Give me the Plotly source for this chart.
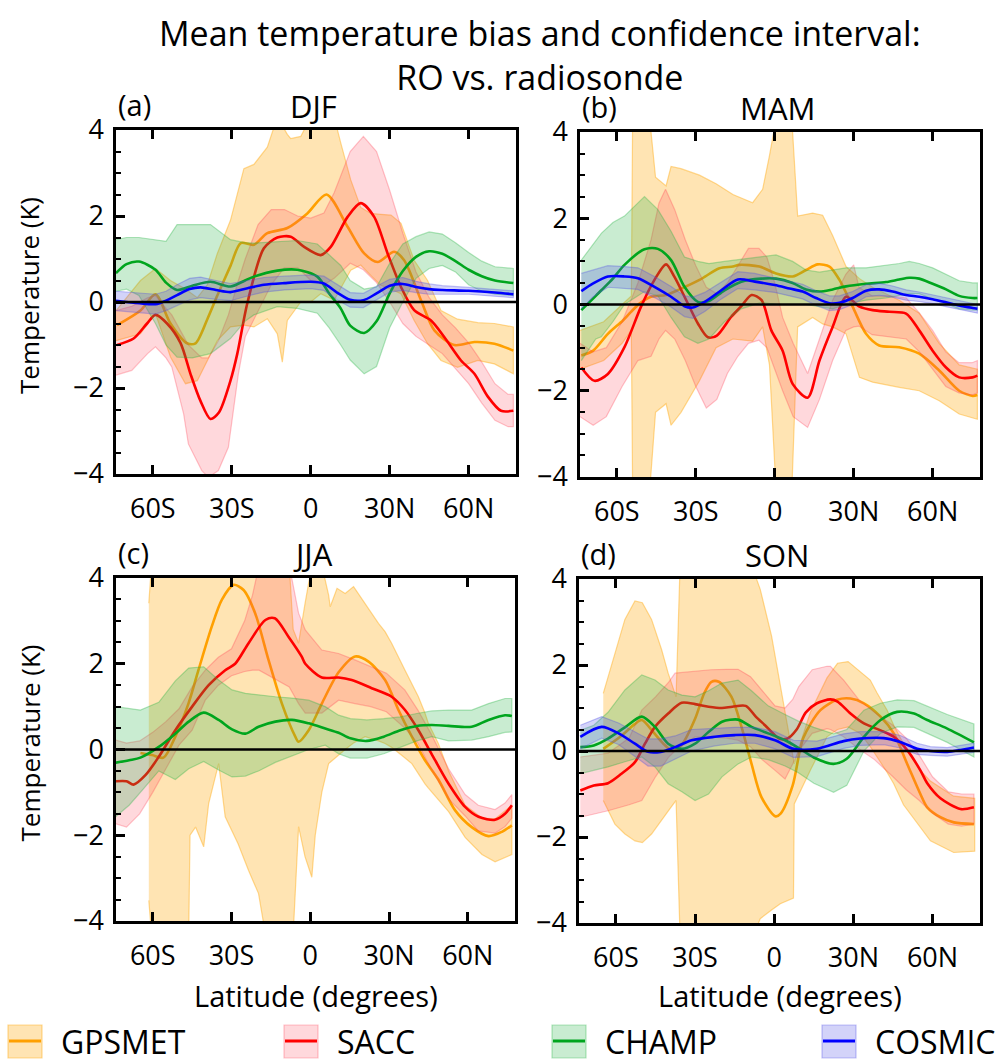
import plotly.graph_objects as go

# ---------------------------------------------------------------- data
TICK_LAT = [-60, -30, 0, 30, 60]
TICK_LAT_TEXT = ["60S", "30S", "0", "30N", "60N"]
TICK_T = [-4, -2, 0, 2, 4]
SERIES_NAMES = ["GPSMET", "SACC", "CHAMP", "COSMIC"]
SEASONS = ["DJF", "MAM", "JJA", "SON"]
PANEL_TAGS = ["(a)", "(b)", "(c)", "(d)"]
TITLE_LINES = ["Mean temperature bias and confidence interval:", "RO vs. radiosonde"]

# ---- (a) DJF
DJF_GPSMET_LAT = [-73.6, -64.7, -59, -53.3, -47, -43.8, -39.3, -35.5, -30.5, -26.6, -21.6, -16.5, -8.9, -1.3, 6,
                  14, 20.3, 25.4, 31.7, 35.5, 41.9, 47, 54.6, 62.2, 69.8, 77]
DJF_GPSMET_MEAN = [-0.54, -0.2, 0.18, -0.5, -0.96, -0.96, -0.4, 0.15, 0.84, 1.37, 1.33, 1.6, 1.72, 2.06, 2.5,
                   1.75, 1.13, 0.93, 1.17, 0.97, 0.04, -0.66, -1.0, -0.93, -0.97, -1.13]
DJF_GPSMET_BLAT = [-74, -64.7, -59, -53.3, -47.6, -43.1, -39.3, -35.5, -30.5, -25.4, -21.6, -16.5, -12.7, -10.8,
                   -8.9, -7.6, -3.8, 0, 3.8, 8.9, 11.4, 15.2, 19, 22.8, 26.6, 30.5, 34.3, 39.3, 44.4, 49.5,
                   55.8, 63.5, 69.8, 77]
DJF_GPSMET_HI = [-0.2, 0.5, 0.78, 0.5, 0.3, 0.1, 0.4, 1.13, 1.9, 3.1, 3.2, 3.6, 4.3, 4.1, 3.9, 3.8, 3.85, 4.3,
                 4.3, 4.3, 3.7, 2.84, 2.2, 2.06, 2.04, 2.02, 1.83, 0.97, 0.5, -0.2, -0.4, -0.48, -0.5, -0.58]
DJF_GPSMET_LO = [-0.9, -0.74, -0.27, -1.28, -1.9, -1.83, -1.36, -0.9, -0.58, -0.54, -0.58, -0.39, -0.74, -1.4,
                 -0.43, -0.3, 0.0, 0.0, 0.19, 0.04, 0.3, 0.74, 0.86, 0.62, 0.39, 0.3, 0.19, -0.43, -0.97, -1.36,
                 -1.52, -1.36, -1.44, -1.67]

DJF_SACC_LAT = [-73.6, -67.3, -62.2, -59, -54.6, -49.5, -45.7, -41.9, -38.1, -34.9, -30.5, -27.9, -24.1, -17.8,
                -12.7, -7.6, -2.5, 3.8, 7.6, 14, 19, 24.1, 29.2, 34.3, 39.3, 45.7, 50.8, 57.1, 62.2, 67.3,
                72.3, 77]
DJF_SACC_MEAN = [-1.0, -0.85, -0.5, -0.3, -0.5, -0.95, -1.67, -2.3, -2.72, -2.57, -1.83, -1.2, -0.03, 1.25, 1.5,
                 1.52, 1.28, 1.09, 1.28, 1.98, 2.3, 1.98, 1.13, 0.35, -0.19, -0.43, -0.82, -1.36, -1.67, -2.2,
                 -2.53, -2.53]
DJF_SACC_BLAT = [-74, -68, -62, -59, -55, -52.8, -48.3, -46.5, -41.4, -38.9, -35.1, -31.3, -27.5, -24.9, -20,
                 -15, -10, -5, 0, 5, 8.9, 15, 20, 25, 30, 35, 40, 45, 50, 55, 60, 65, 70, 75, 77]
DJF_SACC_HI = [-0.2, -0.1, 0.1, 0.15, -0.15, -0.3, -0.8, -1.0, -1.3, -1.3, -0.9, -0.3, 0.5, 1.0, 1.8, 2.15,
               2.15, 2.0, 1.95, 2.07, 2.54, 3.5, 3.85, 3.5, 2.6, 1.6, 0.7, 0.1, -0.3, -0.6, -0.95, -1.4, -1.9,
               -2.15, -2.15]
DJF_SACC_LO = [-1.7, -1.59, -1.2, -1.04, -1.3, -1.51, -2.6, -3.3, -3.92, -4.08, -3.92, -3.38, -1.67, -0.81,
               -0.2, 0.4, 0.8, 0.8, 0.5, 0.4, 0.55, 0.9, 0.75, 0.45, 0.0, -0.5, -0.8, -1.0, -1.2, -1.55, -1.9,
               -2.35, -2.75, -2.9, -2.9]

DJF_CHAMP_LAT = [-74, -70, -65.3, -59, -55, -50.8, -45, -38.1, -30.5, -25, -21.6, -12.7, -5.1, 2.5, 7, 11.4, 15,
                 20.3, 25, 30, 35, 40, 45, 50, 55, 60, 65, 70, 77]
DJF_CHAMP_MEAN = [0.67, 0.88, 0.94, 0.75, 0.45, 0.28, 0.38, 0.47, 0.36, 0.5, 0.59, 0.73, 0.75, 0.59, 0.2, -0.15,
                  -0.55, -0.72, -0.45, 0.2, 0.72, 1.05, 1.18, 1.12, 0.95, 0.75, 0.6, 0.5, 0.44]
DJF_CHAMP_HI = [1.45, 1.5, 1.5, 1.45, 1.41, 1.8, 1.8, 1.8, 1.45, 1.38, 1.37, 1.41, 1.43, 1.35, 1.1, 0.85, 0.5,
                0.3, 0.35, 0.9, 1.35, 1.52, 1.63, 1.58, 1.38, 1.15, 0.95, 0.82, 0.78]
DJF_CHAMP_LO = [0.25, 0.3, 0.15, -0.5, -1.0, -1.28, -1.3, -1.2, -0.85, -0.45, -0.3, -0.11, -0.15, -0.26, -0.6,
                -1.0, -1.35, -1.67, -1.5, -0.6, 0.0, 0.55, 0.78, 0.85, 0.7, 0.4, 0.25, 0.18, 0.15]

DJF_COSMIC_LAT = [-74, -65, -59, -55, -50.8, -46, -41.9, -36, -30.5, -24, -17.8, -10, 0, 5, 10, 15, 20, 25, 30,
                  35, 40, 45, 50, 60, 70, 77]
DJF_COSMIC_MEAN = [0.03, -0.03, -0.05, 0.03, 0.16, 0.3, 0.34, 0.28, 0.23, 0.32, 0.4, 0.44, 0.47, 0.43, 0.22,
                   0.05, 0.04, 0.2, 0.38, 0.42, 0.35, 0.3, 0.28, 0.26, 0.22, 0.18]
DJF_COSMIC_HI = [0.25, 0.2, 0.18, 0.25, 0.4, 0.55, 0.58, 0.5, 0.43, 0.5, 0.57, 0.6, 0.63, 0.6, 0.4, 0.22, 0.2,
                 0.36, 0.53, 0.57, 0.48, 0.42, 0.38, 0.34, 0.3, 0.26]
DJF_COSMIC_LO = [-0.2, -0.25, -0.28, -0.2, -0.08, 0.05, 0.1, 0.06, 0.03, 0.14, 0.23, 0.28, 0.31, 0.27, 0.05,
                 -0.12, -0.13, 0.04, 0.23, 0.27, 0.22, 0.18, 0.18, 0.18, 0.14, 0.1]

# ---- (b) MAM
MAM_GPSMET_LAT = [-73.5, -69, -63.4, -57.7, -54.6, -51.4, -47, -41.3, -36.2, -28.6, -21, -15.9, -13.4, -5.8, 0.5,
                  6.8, 11.9, 16.3, 20.8, 24.6, 29.6, 34.7, 39.7, 47.3, 54.9, 62.5, 70.1, 75.2, 77]
MAM_GPSMET_MEAN = [-1.18, -1.07, -0.68, -0.37, -0.17, 0.02, 0.18, 0.22, 0.35, 0.57, 0.84, 0.88, 0.92, 0.88, 0.72,
                   0.65, 0.8, 0.93, 0.88, 0.57, -0.05, -0.68, -0.95, -0.99, -1.14, -1.53, -2.0, -2.12, -2.1]
MAM_GPSMET_BLAT = [-74, -65, -58, -54.5, -54, -47.5, -45.3, -41.3, -39.4, -35.6, -28.6, -22.3, -15.9, -8.4, -4.6,
                   -2, 0.5, 6.5, 8.7, 14.4, 18.2, 22, 27.1, 32.2, 37.2, 47.3, 54.9, 62.5, 70.1, 77]
MAM_GPSMET_HI = [-0.6, -0.4, 0.0, 0.2, 4.3, 4.3, 2.95, 2.75, 3.2, 3.15, 3.0, 2.8, 2.55, 2.36, 2.67, 3.45, 4.3,
                 4.3, 2.05, 2.12, 2.07, 1.6, 0.88, 0.6, 0.4, 0.1, -0.2, -0.9, -1.4, -1.5]
MAM_GPSMET_LO = [-1.5, -1.3, -0.9, -0.6, -4.3, -4.3, -2.5, -2.3, -2.8, -2.5, -1.77, -1.0, -0.8, -0.85, -0.52,
                 -1.4, -4.3, -4.3, -0.52, -0.3, -0.45, -0.52, -0.68, -1.69, -1.8, -1.92, -2.0, -2.23, -2.54, -2.66]

MAM_SACC_LAT = [-73.5, -68.5, -63.4, -57.1, -50.8, -45.7, -41.3, -38.1, -33, -29.2, -25.4, -22, -16.6, -12.7,
                -8.8, -5, -1.3, 3, 6.8, 12.5, 17, 22, 27.1, 32.2, 37.2, 43.5, 49.9, 54.9, 60, 65.1, 70.1, 75.2, 77]
MAM_SACC_MEAN = [-1.46, -1.77, -1.61, -0.99, -0.05, 0.57, 0.93, 0.64, 0.02, -0.44, -0.76, -0.72, -0.29, -0.04,
                 0.22, 0.1, -0.6, -1.07, -1.84, -2.16, -1.3, -0.52, 0.18, -0.05, -0.13, -0.17, -0.21, -0.6, -1.07,
                 -1.46, -1.69, -1.69, -1.65]
MAM_SACC_BLAT = [-74, -69, -64, -58, -52, -47, -44, -41.5, -38, -34, -30, -26, -22, -18, -14, -10, -6, -3, 0, 3,
                 7, 12.5, 17, 22, 27, 30, 32, 37, 44, 50, 55, 60, 65, 70, 75, 77]
MAM_SACC_HI = [-0.9, -1.1, -1.0, -0.4, 0.5, 1.5, 2.35, 2.67, 2.2, 1.5, 0.9, 0.4, 0.25, 0.5, 0.9, 1.3, 1.3, 1.1,
               0.5, -0.3, -0.9, -1.6, -0.8, 0.1, 0.7, 0.92, 0.4, 0.2, 0.2, 0.15, -0.2, -0.6, -1.1, -1.35, -1.35,
               -1.3]
MAM_SACC_LO = [-2.6, -2.8, -2.6, -1.9, -1.3, -1.2, -0.8, -0.6, -0.8, -1.3, -1.9, -2.4, -2.2, -1.6, -1.2, -0.9,
               -0.83, -1.0, -1.5, -2.0, -2.6, -2.85, -2.2, -1.3, -0.6, -0.52, -0.5, -0.7, -0.75, -0.8, -1.1, -1.5,
               -1.9, -2.05, -2.1, -2.05]

MAM_CHAMP_LAT = [-73.5, -68, -65.9, -61.5, -57.1, -49.5, -44.4, -39.4, -34.3, -29.2, -25, -19.1, -12.7, -5.1,
                 0.5, 6.8, 11.9, 17, 22, 27.1, 34.7, 42.3, 47.3, 51.1, 54.9, 60, 65.1, 70.1, 75.2, 77]
MAM_CHAMP_MEAN = [-0.13, 0.2, 0.33, 0.6, 0.92, 1.28, 1.29, 1.03, 0.41, 0.06, 0.08, 0.33, 0.53, 0.6, 0.6, 0.5,
                  0.35, 0.3, 0.35, 0.42, 0.48, 0.52, 0.58, 0.62, 0.6, 0.48, 0.35, 0.2, 0.15, 0.15]
MAM_CHAMP_HI = [1.03, 1.5, 1.65, 1.9, 2.05, 2.5, 2.2, 1.7, 1.1, 1.0, 0.95, 1.0, 1.05, 1.1, 1.15, 1.0, 0.8, 0.75,
                0.8, 0.85, 0.85, 0.9, 0.95, 1.0, 0.95, 0.85, 0.7, 0.55, 0.5, 0.5]
MAM_CHAMP_LO = [-1.3, -0.8, -0.75, -0.4, 0.0, 0.3, 0.2, -0.3, -0.75, -0.9, -0.8, -0.4, -0.1, 0.05, 0.0, 0.0,
                0.0, -0.05, -0.1, 0.0, 0.1, 0.15, 0.2, 0.25, 0.25, 0.12, 0.02, -0.1, -0.13, -0.13]

MAM_COSMIC_LAT = [-73.5, -69, -63.4, -57.1, -52, -45.7, -39.4, -34.3, -31.1, -26.6, -20.3, -14, -7.6, 0, 5.6,
                  10.6, 15.7, 20.8, 24.6, 29.6, 34.7, 39.7, 44.8, 49.9, 54.9, 60, 65.1, 70.1, 75.2, 77]
MAM_COSMIC_MEAN = [0.31, 0.49, 0.65, 0.65, 0.61, 0.41, 0.18, -0.04, -0.07, 0.06, 0.33, 0.58, 0.53, 0.45, 0.37,
                   0.3, 0.15, 0.03, 0.04, 0.15, 0.32, 0.35, 0.3, 0.22, 0.18, 0.12, 0.05, -0.02, -0.08, -0.1]
MAM_COSMIC_HI = [0.72, 0.8, 0.9, 0.88, 0.85, 0.65, 0.42, 0.2, 0.17, 0.28, 0.53, 0.76, 0.72, 0.62, 0.54, 0.47,
                 0.32, 0.2, 0.2, 0.3, 0.46, 0.49, 0.43, 0.34, 0.29, 0.22, 0.15, 0.08, 0.02, 0.0]
MAM_COSMIC_LO = [-0.1, 0.18, 0.4, 0.37, 0.35, 0.16, -0.06, -0.28, -0.32, -0.16, 0.13, 0.37, 0.34, 0.28, 0.2,
                 0.13, -0.02, -0.14, -0.12, 0.0, 0.18, 0.21, 0.17, 0.1, 0.07, 0.02, -0.05, -0.12, -0.18, -0.2]

# ---- (c) JJA  (no COSMIC data)
JJA_GPSMET_LAT = [-64.7, -60.3, -55.9, -51.4, -46.4, -42.6, -37.5, -33.7, -29.2, -25.4, -21, -15.9, -10.8, -5.7,
                  -4.45, -0.6, 4.4, 10.8, 17.1, 22.2, 28.5, 33.6, 38.7, 43.7, 48.8, 55.2, 61.5, 67.9, 73, 76.8]
JJA_GPSMET_MEAN = [-0.08, -0.13, -0.19, 0.3, 1.07, 1.85, 2.87, 3.49, 3.84, 3.72, 3.18, 2.09, 1.07, 0.3, 0.18,
                   0.45, 1.07, 1.8, 2.17, 2.05, 1.62, 0.92, 0.3, -0.25, -0.7, -1.42, -1.81, -2.02, -1.92, -1.77]
JJA_GPSMET_BLAT = [-61.5, -60.5, -46.3, -45.8, -43.7, -40.6, -38.7, -34.9, -32.4, -27.5, -23.5, -19.7, -17.1,
                   -8.0, -6.5, -4.45, -2, 0.6, 1.9, 4.4, 7.0, 7.6, 10.2, 13.3, 16.5, 20.9, 26, 28.5, 31, 36.1,
                   38.7, 41.2, 43.7, 45, 48.8, 52.7, 59, 65.4, 70.4, 76.8]
JJA_GPSMET_HI = [3.41, 4.3, 4.3, 4.3, 4.3, 4.3, 4.3, 4.3, 4.3, 4.3, 4.3, 4.3, 4.3, 4.3, 2.8, 2.48, 3.4, 4.3, 4.3,
                 4.3, 3.6, 3.33, 3.76, 3.64, 3.8, 3.41, 2.94, 2.75, 2.48, 1.85, 1.55, 1.23, 0.85, 0.61, 0.14,
                 -0.5, -1.3, -1.6, -1.62, -1.3]
JJA_GPSMET_LO = [-3.52, -4.3, -4.3, -2.0, -1.81, -2.27, -1.26, -0.33, -1.57, -2.2, -2.82, -3.36, -4.3, -4.3,
                 -4.3, -1.8, -2.5, -2.98, -2.0, -1.0, -0.33, -0.3, -0.17, 0.0, 0.15, 0.3, 0.2, 0.14, 0.05, -0.2,
                 -0.33, -0.55, -0.8, -0.9, -1.18, -1.45, -2.05, -2.45, -2.62, -2.45]

JJA_SACC_LAT = [-74.2, -70, -67.3, -62.8, -57.7, -51.4, -45, -38.7, -32.4, -28.6, -23.5, -17.1, -13.5, -8.3,
                -3.3, -1.9, 4.4, 10.8, 15.8, 23.4, 31, 36.1, 41.2, 46.2, 52.7, 59, 64.1, 70.4, 74.2, 76.8]
JJA_SACC_MEAN = [-0.74, -0.74, -0.82, -0.6, -0.17, 0.45, 1.0, 1.5, 1.85, 2.0, 2.48, 3.02, 3.06, 2.63, 2.17, 2.0,
                 1.68, 1.68, 1.62, 1.43, 1.23, 0.92, 0.45, -0.1, -0.8, -1.34, -1.57, -1.64, -1.5, -1.3]
JJA_SACC_BLAT = [-74.2, -70, -65, -60, -55, -50, -45, -40, -35, -30, -25, -22, -19.5, -8, -4.45, -1.9, 4.4, 10.8,
                 17, 23, 29, 36, 41, 46, 52.7, 59, 64, 70.4, 74.2, 76.8]
JJA_SACC_HI = [0.22, 0.15, 0.2, 0.4, 0.65, 0.95, 1.46, 1.85, 2.15, 2.35, 3.0, 3.6, 4.3, 4.3, 3.18, 2.79, 2.32,
               2.24, 2.09, 1.93, 1.78, 1.39, 0.92, 0.37, -0.45, -1.05, -1.3, -1.4, -1.25, -1.05]
JJA_SACC_LO = [-1.73, -1.81, -1.5, -1.0, -0.45, 0.1, 0.45, 1.15, 1.5, 1.72, 1.82, 1.85, 1.85, 1.46, 1.07, 0.85,
               0.85, 1.15, 1.07, 1.0, 0.88, 0.5, 0.15, -0.45, -1.15, -1.55, -1.9, -1.95, -1.8, -1.6]

JJA_CHAMP_LAT = [-74.2, -69, -64.7, -57.7, -51.4, -46.3, -40.6, -34.9, -29.8, -24.7, -19.7, -13.3, -7, -0.6, 5.7,
                 10.8, 15.3, 21.6, 28, 34.3, 40.6, 46.3, 52.7, 61.5, 67.9, 74.2, 76.8]
JJA_CHAMP_MEAN = [-0.31, -0.25, -0.19, 0.06, 0.37, 0.65, 0.86, 0.69, 0.47, 0.37, 0.53, 0.65, 0.69, 0.61, 0.49,
                  0.39, 0.26, 0.2, 0.3, 0.45, 0.55, 0.57, 0.55, 0.53, 0.69, 0.8, 0.78]
JJA_CHAMP_HI = [1.0, 0.95, 0.92, 1.1, 1.6, 1.9, 1.93, 1.62, 1.39, 1.31, 1.27, 1.23, 1.2, 1.15, 1.0, 0.8, 0.72,
                0.69, 0.72, 0.76, 0.84, 0.9, 0.92, 0.92, 1.07, 1.19, 1.19]
JJA_CHAMP_LO = [-1.57, -1.3, -1.0, -0.5, -0.7, -0.45, -0.28, -0.48, -0.64, -0.62, -0.5, -0.3, -0.15, 0.0, 0.1,
                -0.1, -0.2, -0.2, -0.1, 0.05, 0.2, 0.3, 0.2, 0.22, 0.3, 0.4, 0.41]

# ---- (d) SON
SON_GPSMET_LAT = [-64.8, -58, -53, -50.2, -46, -42, -38.5, -35, -30, -26.5, -23.8, -21, -16.2, -12.4, -8.6, -4.8,
                  0.5, 2.5, 7, 11, 17.5, 23.8, 28.9, 34, 40.3, 45.3, 50.4, 55.4, 58, 63, 68.1, 75.7]
SON_GPSMET_MEAN = [0.05, 0.35, 0.62, 0.72, 0.45, 0.17, 0.0, 0.15, 0.75, 1.35, 1.61, 1.61, 1.26, 0.56, -0.3,
                   -1.08, -1.52, -1.45, -0.8, 0.3, 0.95, 1.19, 1.22, 1.11, 0.8, 0.41, -0.3, -1.0, -1.31, -1.54,
                   -1.66, -1.7]
SON_GPSMET_BLAT = [-64.8, -60.4, -56.6, -52.8, -50, -46.5, -42.7, -40.2, -37.2, -35.7, -10, -7.3, -5.3, -1, 2.3,
                   6, 7.3, 7.6, 10, 13.7, 20, 24, 28, 32.6, 36.4, 39, 42.8, 45.3, 49, 55.4, 59.2, 68, 76]
SON_GPSMET_HI = [1.34, 2.28, 3.06, 3.49, 3.45, 3.06, 2.36, 1.81, 1.26, 4.3, 4.3, 4.1, 3.76, 2.67, 1.5, 0.2,
                 -0.2, -0.3, 0.2, 0.9, 1.7, 2.04, 2.08, 1.85, 1.65, 1.35, 0.95, 0.6, 0.17, -0.45, -0.7, -1.05,
                 -1.1]
SON_GPSMET_LO = [-1.15, -1.7, -1.93, -2.09, -2.13, -1.93, -1.6, -1.4, -1.15, -4.3, -4.3, -4.2, -3.9, -3.7,
                 -3.55, -3.45, -3.42, -1.23, -0.9, -0.45, 0.33, 0.5, 0.56, 0.41, 0.1, -0.14, -0.5, -0.76, -1.25,
                 -1.78, -2.09, -2.36, -2.33]

SON_SACC_LAT = [-73.5, -68.4, -63, -57.9, -52.8, -49, -45.2, -40.2, -35.1, -30, -24.9, -19.8, -15.9, -10.8, -7,
                -3.5, 1.9, 5, 8.5, 12, 16.2, 21.3, 24, 28.9, 34, 40.3, 45.3, 50.4, 55.4, 58, 63, 70.6, 75.7]
SON_SACC_MEAN = [-0.92, -0.8, -0.75, -0.53, -0.26, 0.17, 0.56, 0.87, 1.12, 1.09, 1.03, 1.0, 1.03, 1.05, 0.8,
                 0.6, 0.29, 0.29, 0.5, 0.9, 1.11, 1.2, 1.15, 0.87, 0.64, 0.48, 0.33, 0.02, -0.45, -0.75, -1.1,
                 -1.35, -1.31]
SON_SACC_BLAT = [-73.5, -63, -55, -50.2, -45, -40, -37.6, -30, -24, -18, -13.7, -9, -4.6, 0.3, 4.1, 7, 9.3,
                 14.4, 20, 21.3, 26.3, 32, 38, 45, 50, 55, 60, 66, 71, 75.7]
SON_SACC_HI = [-0.14, -0.05, 0.3, 0.95, 1.26, 1.6, 1.81, 1.85, 1.89, 1.9, 1.9, 1.73, 1.4, 1.05, 1.0, 1.2, 1.5,
               1.89, 1.97, 1.97, 1.65, 1.2, 0.9, 0.6, 0.3, -0.1, -0.6, -0.95, -1.0, -1.0]
SON_SACC_LO = [-1.54, -1.39, -1.25, -1.15, -0.6, -0.14, 0.0, 0.33, 0.33, 0.3, 0.25, 0.1, -0.2, -0.45, -0.65,
               -0.3, 0.0, 0.41, 0.52, 0.5, 0.33, 0.05, -0.2, -0.6, -0.9, -1.15, -1.45, -1.7, -1.75, -1.7]

SON_CHAMP_LAT = [-73.5, -68.4, -63, -56.6, -50.2, -45.2, -40.2, -35, -30, -24.9, -19.8, -13.7, -8.6, -2.3, 4.1,
                 9, 15, 22.5, 27.5, 34, 40.3, 46.6, 53, 58, 65.6, 75.7]
SON_CHAMP_MEAN = [0.09, 0.13, 0.29, 0.55, 0.8, 0.56, 0.17, 0.05, 0.17, 0.44, 0.68, 0.73, 0.56, 0.41, 0.25, 0.08,
                  -0.15, -0.3, -0.18, 0.33, 0.72, 0.91, 0.87, 0.72, 0.52, 0.2]
SON_CHAMP_HI = [0.48, 0.6, 0.9, 1.42, 1.77, 1.65, 1.42, 1.3, 1.26, 1.4, 1.58, 1.65, 1.4, 1.05, 0.85, 0.7, 0.55,
                0.4, 0.5, 0.95, 1.11, 1.19, 1.17, 1.05, 0.85, 0.63]
SON_CHAMP_LO = [-0.53, -0.45, -0.37, -0.25, -0.14, -0.37, -0.76, -0.95, -1.15, -1.0, -0.6, -0.3, -0.14, -0.2,
                -0.35, -0.5, -0.75, -0.96, -0.8, 0.0, 0.41, 0.56, 0.55, 0.4, 0.2, -0.14]

SON_COSMIC_LAT = [-73.5, -65.4, -59, -52.8, -47.8, -43, -37.6, -31.3, -22.5, -14.9, -7.3, 0.3, 7.3, 16.2, 26.3,
                  32.6, 41.5, 47.8, 54.2, 59.2, 65.6, 75.7]
SON_COSMIC_MEAN = [0.33, 0.56, 0.41, 0.17, -0.02, -0.02, 0.09, 0.25, 0.33, 0.37, 0.37, 0.25, 0.05, 0.05, 0.23,
                   0.29, 0.3, 0.21, 0.05, 0.0, -0.02, 0.08]
SON_COSMIC_HI = [0.6, 0.8, 0.65, 0.45, 0.28, 0.28, 0.35, 0.5, 0.53, 0.55, 0.55, 0.45, 0.25, 0.23, 0.4, 0.45,
                 0.45, 0.36, 0.18, 0.1, 0.08, 0.18]
SON_COSMIC_LO = [0.05, 0.3, 0.15, -0.12, -0.35, -0.35, -0.18, 0.0, 0.12, 0.18, 0.18, 0.05, -0.15, -0.13, 0.06,
                 0.13, 0.15, 0.07, -0.08, -0.1, -0.12, -0.03]

# ---------------------------------------------------------------- styles
LINE_COLORS = {"GPSMET": "rgb(255,160,0)", "SACC": "rgb(255,0,0)",
               "CHAMP": "rgb(0,165,30)", "COSMIC": "rgb(0,0,255)"}
FILL_COLORS = {"GPSMET": "rgba(255,170,20,0.32)", "SACC": "rgba(255,60,80,0.20)",
               "CHAMP": "rgba(40,180,70,0.25)", "COSMIC": "rgba(80,80,230,0.25)"}
EDGE_COLORS = {"GPSMET": "rgba(255,170,20,0.45)", "SACC": "rgba(255,60,80,0.30)",
               "CHAMP": "rgba(40,180,70,0.35)", "COSMIC": "rgba(80,80,230,0.35)"}

PANELS = [
    [("GPSMET", DJF_GPSMET_LAT, DJF_GPSMET_MEAN, DJF_GPSMET_BLAT, DJF_GPSMET_LO, DJF_GPSMET_HI),
     ("SACC", DJF_SACC_LAT, DJF_SACC_MEAN, DJF_SACC_BLAT, DJF_SACC_LO, DJF_SACC_HI),
     ("CHAMP", DJF_CHAMP_LAT, DJF_CHAMP_MEAN, DJF_CHAMP_LAT, DJF_CHAMP_LO, DJF_CHAMP_HI),
     ("COSMIC", DJF_COSMIC_LAT, DJF_COSMIC_MEAN, DJF_COSMIC_LAT, DJF_COSMIC_LO, DJF_COSMIC_HI)],
    [("GPSMET", MAM_GPSMET_LAT, MAM_GPSMET_MEAN, MAM_GPSMET_BLAT, MAM_GPSMET_LO, MAM_GPSMET_HI),
     ("SACC", MAM_SACC_LAT, MAM_SACC_MEAN, MAM_SACC_BLAT, MAM_SACC_LO, MAM_SACC_HI),
     ("CHAMP", MAM_CHAMP_LAT, MAM_CHAMP_MEAN, MAM_CHAMP_LAT, MAM_CHAMP_LO, MAM_CHAMP_HI),
     ("COSMIC", MAM_COSMIC_LAT, MAM_COSMIC_MEAN, MAM_COSMIC_LAT, MAM_COSMIC_LO, MAM_COSMIC_HI)],
    [("GPSMET", JJA_GPSMET_LAT, JJA_GPSMET_MEAN, JJA_GPSMET_BLAT, JJA_GPSMET_LO, JJA_GPSMET_HI),
     ("SACC", JJA_SACC_LAT, JJA_SACC_MEAN, JJA_SACC_BLAT, JJA_SACC_LO, JJA_SACC_HI),
     ("CHAMP", JJA_CHAMP_LAT, JJA_CHAMP_MEAN, JJA_CHAMP_LAT, JJA_CHAMP_LO, JJA_CHAMP_HI)],
    [("GPSMET", SON_GPSMET_LAT, SON_GPSMET_MEAN, SON_GPSMET_BLAT, SON_GPSMET_LO, SON_GPSMET_HI),
     ("SACC", SON_SACC_LAT, SON_SACC_MEAN, SON_SACC_BLAT, SON_SACC_LO, SON_SACC_HI),
     ("CHAMP", SON_CHAMP_LAT, SON_CHAMP_MEAN, SON_CHAMP_LAT, SON_CHAMP_LO, SON_CHAMP_HI),
     ("COSMIC", SON_COSMIC_LAT, SON_COSMIC_MEAN, SON_COSMIC_LAT, SON_COSMIC_LO, SON_COSMIC_HI)],
]

# ---------------------------------------------------------------- layout
W, H = 1001, 1062
FONT = "Open Sans"
BOXES = [(116, 516, 130, 474), (580, 980, 132, 477), (116, 515, 578, 921), (579, 980, 579, 923)]


def px(x):
    return x / W


def py(y):
    return 1 - y / H


fig = go.Figure()
layout = dict(width=W, height=H, margin=dict(l=0, r=0, t=0, b=0, pad=0, autoexpand=False),
              paper_bgcolor="white", plot_bgcolor="white", showlegend=False,
              font=dict(family=FONT, color="black"))
shapes, annotations = [], []

for i, series in enumerate(PANELS):
    n = i + 1
    xa, ya = ("x" if n == 1 else f"x{n}"), ("y" if n == 1 else f"y{n}")
    x0, x1, y0, y1 = BOXES[i]
    layout["xaxis" if n == 1 else f"xaxis{n}"] = dict(
        domain=[px(x0), px(x1)], anchor=ya, range=[-74, 78], automargin=False,
        tickmode="array", tickvals=TICK_LAT, ticktext=TICK_LAT_TEXT,
        ticks="inside", ticklen=9, tickwidth=2.5, tickcolor="black",
        showline=True, linewidth=2.5, linecolor="black", mirror="ticks",
        showgrid=False, zeroline=False, ticklabelstandoff=9,
        tickfont=dict(family=FONT, size=27, color="black"))
    layout["yaxis" if n == 1 else f"yaxis{n}"] = dict(
        domain=[py(y1), py(y0)], anchor=xa, range=[-4, 4], automargin=False,
        tickmode="array", tickvals=TICK_T,
        ticks="inside", ticklen=9, tickwidth=2.5, tickcolor="black",
        minor=dict(dtick=0.5, ticks="inside", ticklen=5, tickwidth=2, tickcolor="black"),
        showline=True, linewidth=2.5, linecolor="black", mirror=True,
        showgrid=False, zeroline=False, ticklabelstandoff=4,
        tickfont=dict(family=FONT, size=27, color="black"))

    for name, lat, mean, blat, lo, hi in series:
        fig.add_trace(go.Scatter(
            x=list(blat) + list(blat)[::-1], y=list(hi) + list(lo)[::-1],
            xaxis=xa, yaxis=ya, mode="lines", fill="toself",
            fillcolor=FILL_COLORS[name], line=dict(color=EDGE_COLORS[name], width=1.2),
            hoverinfo="skip", name=name + " CI"))
        fig.add_trace(go.Scatter(
            x=lat, y=mean, xaxis=xa, yaxis=ya, mode="lines",
            line=dict(color=LINE_COLORS[name], width=2.6, shape="spline", smoothing=0.8),
            name=name))

    # zero reference line
    shapes.append(dict(type="line", xref=f"{xa} domain", yref=ya, x0=0, x1=1, y0=0, y1=0,
                       line=dict(color="black", width=2.5), layer="above"))

    # season title and panel tag
    annotations.append(dict(text=SEASONS[i], x=px((x0 + x1) / 2 - 3), y=py(y0 - 24), xref="paper", yref="paper",
                            showarrow=False, xanchor="center", yanchor="middle",
                            font=dict(family=FONT, size=31, color="black")))
    annotations.append(dict(text=PANEL_TAGS[i], x=px(x0), y=py(y0 - 26), xref="paper", yref="paper",
                            showarrow=False, xanchor="left", yanchor="middle",
                            font=dict(family=FONT, size=29, color="black")))

# axis titles
for (x0, x1, y0, y1) in (BOXES[0], BOXES[2]):
    annotations.append(dict(text="Temperature (K)", x=px(29), y=py((y0 + y1) / 2 - 6), xref="paper",
                            yref="paper", showarrow=False, textangle=-90, xanchor="center", yanchor="middle",
                            font=dict(family=FONT, size=26, color="black")))
for (x0, x1, y0, y1) in (BOXES[2], BOXES[3]):
    annotations.append(dict(text="Latitude (degrees)", x=px((x0 + x1) / 2), y=py(995), xref="paper",
                            yref="paper", showarrow=False, xanchor="center", yanchor="middle",
                            font=dict(family=FONT, size=29, color="black")))

# main title (two lines in one text block)
annotations.append(dict(text="<br>".join(TITLE_LINES), x=px(540), y=py(55),
                        xref="paper", yref="paper", showarrow=False, xanchor="center", yanchor="middle",
                        align="center", font=dict(family=FONT, size=34, color="black")))

# legend (drawn as boxes + lines + text)
LEG_X = [8, 284, 552, 822]
for name, lx in zip(SERIES_NAMES, LEG_X):
    shapes.append(dict(type="rect", xref="paper", yref="paper", x0=px(lx), x1=px(lx + 34),
                       y0=py(1058), y1=py(1025), fillcolor=FILL_COLORS[name],
                       line=dict(color=EDGE_COLORS[name], width=1.2)))
    shapes.append(dict(type="line", xref="paper", yref="paper", x0=px(lx + 1), x1=px(lx + 33),
                       y0=py(1041), y1=py(1041), line=dict(color=LINE_COLORS[name], width=3)))
    annotations.append(dict(text=name, x=px(lx + 51), y=py(1041), xref="paper", yref="paper",
                            showarrow=False, xanchor="left", yanchor="middle",
                            font=dict(family=FONT, size=32, color="black")))

layout["shapes"] = shapes
layout["annotations"] = annotations
fig.update_layout(**layout)
fig.write_html("out.html", config={"displayModeBar": False},
               post_script="document.body.style.margin='0px';")
